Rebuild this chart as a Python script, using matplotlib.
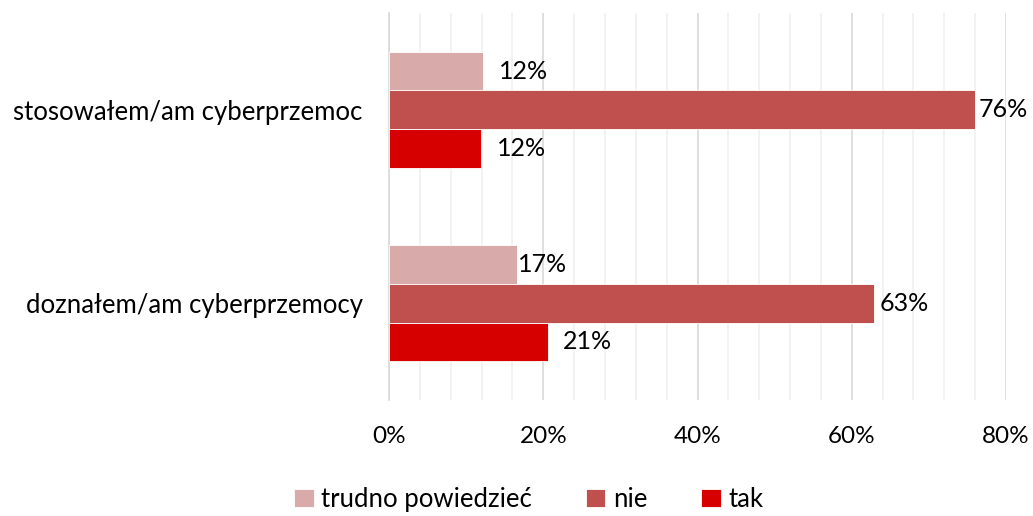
import numpy as np
import matplotlib.pyplot as plt
from matplotlib.ticker import MultipleLocator, PercentFormatter

categories = ['doznałem/am cyberprzemocy', 'stosowałem/am cyberprzemoc']
series = ['trudno powiedzieć', 'nie', 'tak']
trudno = [16.6, 12.2]
nie = [62.9, 76.0]
tak = [20.6, 11.9]
colors = ['#D9AAAA', '#C0504D', '#D60000']

plt.rcParams['font.family'] = ['Lato', 'DejaVu Sans']

fig = plt.figure(figsize=(10.33, 5.16), dpi=100)
ax = fig.add_axes([0.3766, 0.2248, 0.5973, 0.75])

y = np.arange(len(categories))
h = 0.2
label_pad = [[0.7, 11.5], [4.3, 2.2], [10.8, 11.5]]  # points, per series / category
for i, (name, vals) in enumerate(zip(series, [trudno, nie, tak])):
    pos = y + h - i * h
    bars = ax.barh(pos, vals, height=h, color=colors[i], label=name,
                   edgecolor='white', linewidth=0.6, zorder=3)
    for j, b in enumerate(bars):
        ax.annotate(f'{vals[j]:.0f}%', (b.get_width(), b.get_y() + h / 2),
                    xytext=(label_pad[i][j], 0), textcoords='offset points',
                    va='center', ha='left', fontsize=18, color='black')

ax.set_xlim(0, 80)
ax.set_ylim(-0.5, 1.5)
ax.set_yticks(y)
ax.set_yticklabels(categories, fontsize=18.5)
ax.xaxis.set_major_locator(MultipleLocator(20))
ax.xaxis.set_minor_locator(MultipleLocator(4))
ax.xaxis.set_major_formatter(PercentFormatter(decimals=0))
ax.tick_params(axis='x', labelsize=17.5, length=0, pad=19, which='both')
ax.tick_params(axis='y', length=0, pad=19)
ax.grid(axis='x', which='major', color='#D9D9D9', linewidth=1.2, zorder=0)
ax.grid(axis='x', which='minor', color='#F0F0F0', linewidth=1.2, zorder=0)
for s in ['top', 'right', 'bottom']:
    ax.spines[s].set_visible(False)
ax.spines['left'].set_color('#D9D9D9')
ax.spines['left'].set_linewidth(1.2)

fig.legend(loc='lower center', bbox_to_anchor=(0.512, -0.037), ncol=3, frameon=False,
           fontsize=18.5, handlelength=0.75, handleheight=0.75, handletextpad=0.3,
           columnspacing=2.1)

fig.savefig('out.png', dpi=100)
